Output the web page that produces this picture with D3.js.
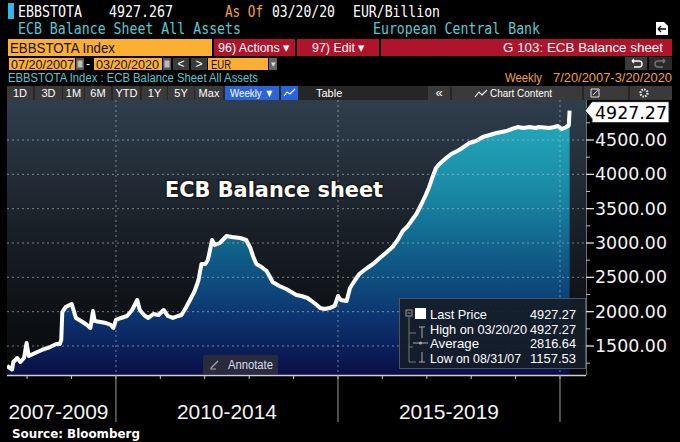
<!DOCTYPE html>
<html><head><meta charset="utf-8">
<script src="https://cdn.jsdelivr.net/npm/d3@7"></script>
<style>html,body{margin:0;padding:0;background:#000;overflow:hidden}</style>
</head><body>
<svg id="c" width="680" height="442"></svg>
<script>
// ---------- DATA ----------
const dates = ["2007-07-20","2007-08-31","2007-09-10","2007-10-12","2007-11-07","2007-12-07","2007-12-28",
"2008-01-15","2008-03-07","2008-05-02","2008-07-08","2008-08-29","2008-09-26","2008-10-08","2008-10-17","2008-11-14",
"2009-01-02","2009-02-06","2009-03-20","2009-05-08","2009-06-05","2009-06-26","2009-07-10","2009-08-28","2009-10-09","2009-11-20","2009-12-11",
"2010-01-01","2010-02-12","2010-04-02","2010-05-14","2010-06-25","2010-07-16","2010-08-20","2010-09-24","2010-11-05","2010-12-17",
"2011-01-28","2011-03-04","2011-04-15","2011-05-27","2011-06-24","2011-07-29","2011-09-02","2011-10-07","2011-10-28","2011-11-11","2011-12-05",
"2012-01-06","2012-01-27","2012-03-02","2012-03-23","2012-05-04","2012-06-29","2012-08-10","2012-10-19","2012-12-07",
"2013-01-11","2013-02-01","2013-03-01","2013-04-12","2013-05-24","2013-06-21","2013-07-12","2013-09-06","2013-11-01","2013-12-13",
"2014-01-24","2014-03-07","2014-04-25","2014-05-30","2014-07-11","2014-08-08","2014-09-12","2014-10-24","2014-12-05",
"2015-01-02","2015-01-23","2015-03-13","2015-04-10","2015-05-22","2015-06-26","2015-08-28","2015-10-16","2015-12-11",
"2016-01-29","2016-03-25","2016-05-06","2016-06-17","2016-07-29","2016-08-26","2016-10-07","2016-11-18","2016-12-23",
"2017-01-20","2017-02-17","2017-03-17","2017-04-14","2017-06-09","2017-07-21","2017-09-08","2017-10-20","2017-12-15",
"2018-02-09","2018-04-06","2018-06-01","2018-07-27","2018-09-07","2018-10-19","2018-11-30",
"2019-01-18","2019-03-08","2019-04-26","2019-06-14","2019-07-12","2019-08-23","2019-10-04","2019-11-15","2019-12-13",
"2020-01-17","2020-02-14","2020-03-06","2020-03-13","2020-03-20"];
const values = [1209,1158,1267,1325,1267,1325,1544,
1354,1398,1442,1485,1529,1529,1590,1995,2068,
2112,1908,1864,1806,1762,2010,1864,1850,1835,1806,1762,
1879,1908,1937,2024,2170,2024,1951,1908,1966,1951,
2024,1937,1908,1937,1951,2053,2170,2286,2388,2461,2694,
2694,2752,3044,2971,3000,3102,3087,3073,3044,
2927,2811,2694,2650,2592,2505,2432,2374,2330,2286,
2243,2228,2199,2155,2097,2053,2039,2053,2083,
2228,2170,2155,2345,2461,2549,2636,2694,2782,
2854,2942,3044,3175,3248,3320,3422,3568,3699,
3816,3961,4092,4151,4238,4296,4340,4384,4456,
4485,4544,4573,4602,4617,4631,4660,
4689,4675,4689,4675,4689,4682,4675,4689,4704,
4660,4682,4704,4710,4927.27];
const yTicks = [1500,2000,2500,3000,3500,4000,4500];
const yMinorTicks = [1250,1750,2250,2750,3250,3750,4250,4750];
const yearTicks = ["2008-01-01","2009-01-01","2010-01-01","2011-01-01","2012-01-01","2013-01-01","2014-01-01","2015-01-01","2016-01-01","2017-01-01","2018-01-01","2019-01-01","2020-01-01"];
const periodBreaks = ["2007-07-20","2010-01-01","2015-01-01","2020-01-01"];
const periodLabels = ["2007-2009","2010-2014","2015-2019"];
const legendLabels = ["Last Price","High on 03/20/20","Average","Low on 08/31/07"];
const legendValues = ["4927.27","4927.27","2816.64","1157.53"];
const lastPrice = 4927.27;
const chartTitle = "ECB Balance sheet";

// ---------- SETUP ----------
const parse = d3.timeParse("%Y-%m-%d");
const data = dates.map((d,i)=>({date:parse(d), v:values[i]}));
const svg = d3.select("#c");
const defs = svg.append("defs");

function T(g,x,y,s,o){
  o=o||{};
  const t=g.append("text").attr("x",x).attr("y",y).text(s)
   .attr("font-family",o.ff||"'Liberation Sans', Arial, sans-serif")
   .attr("font-size",o.fs||12).attr("fill",o.fill||"#fff");
  if(o.w) t.attr("textLength",o.w).attr("lengthAdjust","spacingAndGlyphs");
  if(o.anchor) t.attr("text-anchor",o.anchor);
  if(o.fw) t.attr("font-weight",o.fw);
  return t;
}
function R(g,x,y,w,h,fill){return g.append("rect").attr("x",x).attr("y",y).attr("width",w).attr("height",h).attr("fill",fill);}

svg.append("rect").attr("width",680).attr("height",442).attr("fill","#000");

// ---------- HEADER ----------
const H = svg.append("g");
const mono = "'DejaVu Sans Mono', monospace";
R(H,8,3,6,16,"#2fb8e8");
T(H,18,17,"EBBSTOTA",{ff:mono,fs:15,w:64});
T(H,109,17,"4927.267",{ff:mono,fs:15,w:64});
T(H,225,17,"As Of",{ff:mono,fs:15,w:38,fill:"#f2a23c"});
T(H,272,17,"03/20/20",{ff:mono,fs:15,w:63});
T(H,353,17,"EUR/Billion",{ff:mono,fs:15,w:87});
T(H,18,34,"ECB Balance Sheet All Assets",{ff:mono,fs:15,w:223,fill:"#56c9d2"});
T(H,373,34,"European Central Bank",{ff:mono,fs:15,w:167,fill:"#56c9d2"});
// doc icon
H.append("path").attr("d","M656,22 L664,22 L668,26 L668,35 L656,35 Z").attr("fill","#fff");
H.append("path").attr("d","M658,29 L666,29 M658,29 L661,26 M658,29 L661,32").attr("stroke","#000").attr("stroke-width",1.3);

// row 3
R(H,8,39,204,17,"#fbb034");
T(H,10,53,"EBBSTOTA Index",{fs:15,w:105,fill:"#111"});
R(H,214,39,81,17,"#b0142c");
T(H,218,52,"96) Actions ▾",{fs:13,w:72});
R(H,297,39,82,17,"#b0142c");
T(H,312,52,"97) Edit ▾",{fs:13,w:53});
R(H,381,39,291,17,"#b0142c");
T(H,663,52,"G 103: ECB Balance sheet",{fs:13,w:160,anchor:"end"});

// row 4
R(H,9,58,66,12,"#fbb034");
T(H,11,68.5,"07/20/2007",{fs:12,w:63,fill:"#111"});
R(H,76,58,8,12,"#555"); R(H,77.5,60.5,5,7,"#bbb");
T(H,86,68,"-",{fs:12});
R(H,94,58,68,12,"#fbb034");
T(H,96,68.5,"03/20/2020",{fs:12,w:63,fill:"#111"});
R(H,163,58,8,12,"#555"); R(H,164.5,60.5,5,7,"#bbb");
R(H,173,58,16,12,"#3a3a3a"); T(H,181,68,"<",{fs:12,anchor:"middle"});
R(H,191,58,16,12,"#3a3a3a"); T(H,199,68,">",{fs:12,anchor:"middle"});
R(H,208,58,60,12,"#fbb034");
T(H,211,68.5,"EUR",{fs:12,w:20,fill:"#111"});
R(H,269,58,8,12,"#666"); T(H,273,67,"▾",{fs:9,anchor:"middle",fill:"#ddd"});
R(H,625,57,22,13,"#3a3a3a"); R(H,649,57,23,13,"#2a2a2a");
H.append("path").attr("d","M632,61 L639,61 Q642,61 642,64 Q642,67 639,67 L634,67 M632,61 L634,59 M632,61 L634,63").attr("fill","none").attr("stroke","#fff").attr("stroke-width",1.3);
H.append("path").attr("d","M665,61 L658,61 Q655,61 655,64 Q655,67 658,67 L663,67 M665,61 L663,59 M665,61 L663,63").attr("fill","none").attr("stroke","#777").attr("stroke-width",1.3);

// row 5
T(H,8,82,"EBBSTOTA Index : ECB Balance Sheet All Assets",{fs:12.5,w:250,fill:"#56c9d2"});
T(H,505,82,"Weekly",{fs:12.5,w:37,fill:"#f2a23c"});
T(H,672,82,"7/20/2007-3/20/2020",{fs:12.5,w:119,fill:"#f2a23c",anchor:"end"});

// row 6 toolbar
R(H,7,86,665,14,"#262626");
const btns=[["1D",7,33],["3D",35,62],["1M",63,84],["6M",85,111],["YTD",113,140],["1Y",142,167],["5Y",168,194],["Max",195,223]];
btns.forEach(b=>{R(H,b[1],86,b[2]-b[1],14,"#3a3a3a");T(H,(b[1]+b[2])/2,97,b[0],{fs:11,anchor:"middle"});});
R(H,225,86,54,14,"#2c63d6"); T(H,252,97,"Weekly ▼",{fs:11,anchor:"middle",w:44});
R(H,281,86,17,14,"#2c63d6");
H.append("path").attr("d","M284,96 L287,92 L290,94 L295,89").attr("fill","none").attr("stroke","#fff").attr("stroke-width",1.1);
R(H,300,86,125,14,"#262626"); T(H,316,97,"Table",{fs:11});
R(H,428,86,22,14,"#3a3a3a"); T(H,439,97,"«",{fs:13,anchor:"middle"});
R(H,452,86,130,14,"#3a3a3a");
H.append("path").attr("d","M475,97 L479,92 L482,95 L487,90").attr("fill","none").attr("stroke","#fff").attr("stroke-width",1.1);
T(H,490,97,"Chart Content",{fs:11,w:62});
R(H,584,86,44,14,"#3a3a3a"); R(H,630,86,42,14,"#3a3a3a");
H.append("path").attr("d","M591,89 L599,89 L599,97 L591,97 Z M593,95 L598,90").attr("fill","none").attr("stroke","#ddd").attr("stroke-width",1);
H.append("circle").attr("cx",644).attr("cy",93).attr("r",3.5).attr("fill","none").attr("stroke","#eee").attr("stroke-width",2.2).attr("stroke-dasharray","1.5,1.2");

// ---------- PLOT ----------
const PL=7, PR=586, PT=100, PB=375;
const x = d3.scaleTime().domain([parse("2007-07-20"),parse("2020-03-20")]).range([7,569.6]);
const y = d3.scaleLinear().domain([1500,4500]).range([346,140]);

const bg = defs.append("linearGradient").attr("id","bg").attr("x1",0).attr("y1",0).attr("x2",0).attr("y2",1);
[[0,"#2f3e4d"],[0.45,"#1a2129"],[0.8,"#0d1014"],[1,"#08090c"]].forEach(s=>bg.append("stop").attr("offset",s[0]).attr("stop-color",s[1]));
const ag = defs.append("linearGradient").attr("id","ag").attr("gradientUnits","userSpaceOnUse").attr("x1",0).attr("y1",110).attr("x2",0).attr("y2",375);
[[0,"#24adbd"],[0.3,"#1a8aa6"],[0.55,"#105d88"],[0.78,"#0c3570"],[1,"#0a0e46"]].forEach(s=>ag.append("stop").attr("offset",s[0]).attr("stop-color",s[1]));
defs.append("clipPath").attr("id","clip").append("rect").attr("x",PL).attr("y",PT).attr("width",PR-PL).attr("height",PB-PT);

R(svg,PL,PT,PR-PL,PB-PT,"url(#bg)");
const P = svg.append("g").attr("clip-path","url(#clip)");

P.append("path").datum(data).attr("fill","url(#ag)")
 .attr("d",d3.area().x(d=>x(d.date)).y0(PB).y1(d=>y(d.v)));

// grid
const G = svg.append("g");
G.selectAll("line.h").data(yTicks).join("line").attr("x1",PL).attr("x2",PR)
 .attr("y1",d=>y(d)).attr("y2",d=>y(d)).attr("stroke","#b9c3cc").attr("stroke-opacity",0.6)
 .attr("stroke-width",1).attr("stroke-dasharray","2,3");
G.selectAll("line.v").data(periodBreaks.slice(1)).join("line")
 .attr("x1",d=>x(parse(d))).attr("x2",d=>x(parse(d))).attr("y1",PT).attr("y2",PB)
 .attr("stroke","#b9c3cc").attr("stroke-opacity",0.6).attr("stroke-width",1).attr("stroke-dasharray","2,3");

// line
P.append("path").datum(data).attr("fill","none").attr("stroke","#ffffff").attr("stroke-width",4)
 .attr("stroke-linejoin","round").attr("d",d3.line().x(d=>x(d.date)).y(d=>y(d.v)));

// title
T(svg,165,197,chartTitle,{ff:"'DejaVu Sans', sans-serif",fs:21,fw:"bold",w:218})
 .attr("stroke","#1a1a1a").attr("stroke-width",3).attr("paint-order","stroke");

// annotate button
R(svg,203,355,75,19,"#272b3b");
svg.append("path").attr("d","M211,368 L218,361 M210,369 L216,369").attr("stroke","#aab").attr("stroke-width",1.2);
T(svg,228,369,"Annotate",{fs:12,w:45,fill:"#dde"});

// legend
const L = svg.append("g");
L.append("rect").attr("x",399.5).attr("y",298.5).attr("width",186).attr("height",70).attr("fill","#161d28").attr("fill-opacity",0.92).attr("stroke","#4a5563");
L.append("rect").attr("x",406).attr("y",310).attr("width",6).attr("height",6).attr("fill","none").attr("stroke","#999");
L.append("line").attr("x1",407.5).attr("x2",410.5).attr("y1",313).attr("y2",313).attr("stroke","#999");
L.append("path").attr("d","M409,316 L409,362 L416,362 M409,333 L416,333 M409,347 L413,347").attr("fill","none").attr("stroke","#777");
R(L,415,308,11,11,"#fff");
L.append("path").attr("d","M419,327 L425,327 M422,327 L422,338").attr("stroke","#aaa").attr("stroke-width",1);
L.append("path").attr("d","M413,343 L428,343").attr("stroke","#aaa").attr("stroke-width",1);
L.append("circle").attr("cx",420.5).attr("cy",343).attr("r",1.6).attr("fill","#aaa");
L.append("path").attr("d","M422,352 L422,362 M419,362 L425,362").attr("stroke","#aaa").attr("stroke-width",1);
const lw=[57,97,49,91];
legendLabels.forEach((s,i)=>{
  T(L,430,319+i*14.5,s,{fs:13,w:lw[i]});
  T(L,576,319+i*14.5,legendValues[i],{fs:13,w:46,anchor:"end"});
});

// x axis
const X = svg.append("g");
X.append("line").attr("x1",PL).attr("x2",PR).attr("y1",PB+0.5).attr("y2",PB+0.5).attr("stroke","#cfcfcf").attr("stroke-width",1.5);
X.selectAll("line.t").data(yearTicks).join("line")
 .attr("x1",d=>x(parse(d))).attr("x2",d=>x(parse(d))).attr("y1",PB).attr("y2",PB+4).attr("stroke","#cfcfcf");
X.selectAll("line.d").data(periodBreaks.slice(1)).join("line")
 .attr("x1",d=>x(parse(d))).attr("x2",d=>x(parse(d))).attr("y1",PB).attr("y2",422).attr("stroke","#9a9a9a");
periodLabels.forEach((s,i)=>{
  const a=x(parse(periodBreaks[i])), b=x(parse(periodBreaks[i+1]));
  T(X,(i===0?(a+b)/2-3:(a+b)/2),419,s,{fs:21,w:100,anchor:"middle",fill:"#f4f4f4"});
});
T(svg,12,438,"Source: Bloomberg",{ff:"'DejaVu Sans', sans-serif",fs:12,fw:"bold",w:128});

// y axis (right)
const Y = svg.append("g");
Y.append("line").attr("x1",PR+0.5).attr("x2",PR+0.5).attr("y1",PT).attr("y2",PB).attr("stroke","#6c6c6c");
Y.selectAll("line.m").data(yMinorTicks).join("line").attr("x1",PR).attr("x2",PR+4)
 .attr("y1",d=>y(d)).attr("y2",d=>y(d)).attr("stroke","#bbb");
Y.selectAll("line.M").data(yTicks).join("line").attr("x1",PR).attr("x2",PR+8)
 .attr("y1",d=>y(d)).attr("y2",d=>y(d)).attr("stroke","#ddd").attr("stroke-width",1.3);
Y.selectAll("text").data(yTicks).join("text").attr("x",595).attr("y",d=>y(d)+6)
 .attr("font-family","'DejaVu Sans', sans-serif").attr("font-size",17).attr("fill","#f4f4f4")
 .attr("textLength",72).attr("lengthAdjust","spacingAndGlyphs").text(d=>d3.format(".2f")(d));

// last price tag
const ly = y(lastPrice);
svg.append("path").attr("d",`M585,${ly} L592,${ly-9} L669,${ly-9} L669,${ly+12} L592,${ly+12} L592,${ly+8} Z`)
 .attr("fill","#fff").attr("stroke","#222");
T(svg,667,ly+8,d3.format(".2f")(lastPrice),{ff:"'DejaVu Sans', sans-serif",fs:17,w:72,anchor:"end",fill:"#000"});
</script>
</body></html>
